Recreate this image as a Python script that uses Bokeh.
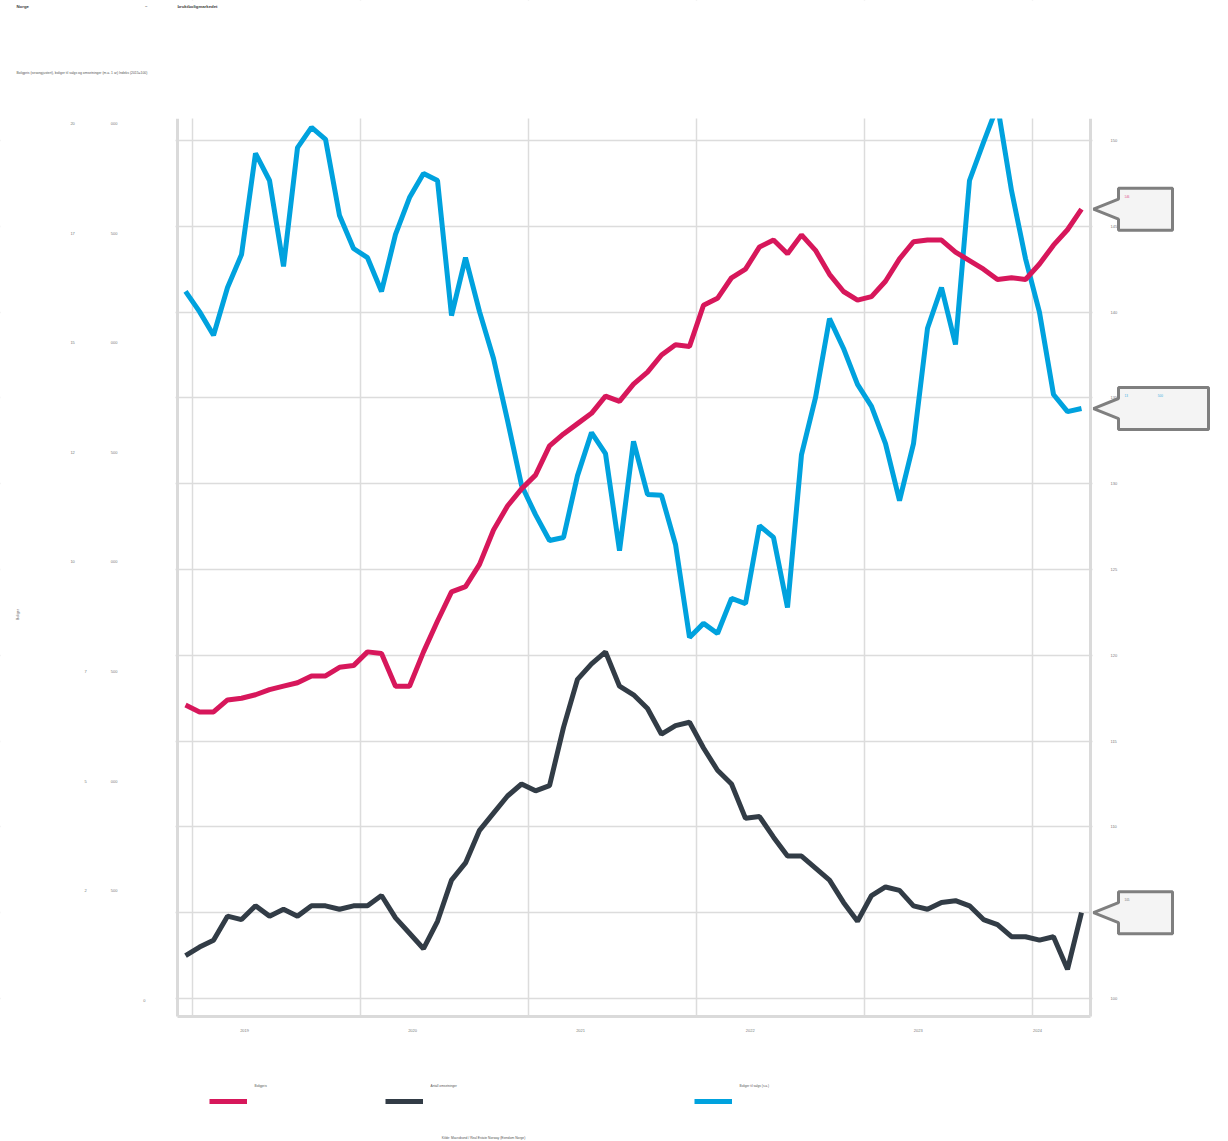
import math
import pandas as pd
from bokeh.plotting import figure
from bokeh.models import (Range1d, LinearAxis, FixedTicker, Grid, Legend, LegendItem,
                          Label, PolyAnnotation, BoxAnnotation)
from bokeh.embed import file_html
from bokeh.resources import INLINE

# Monthly series, December 2018 - April 2024
first_month = "2018-12"

# Boligpris, sesongjustert (indeks 2015=100)
boligpris = [117.1, 116.7, 116.7, 117.4, 117.5, 117.7, 118.0, 118.2, 118.4, 118.8,
             118.8, 119.3, 119.4, 120.2, 120.1, 118.2, 118.2, 120.2, 122.0, 123.7,
             124.0, 125.3, 127.3, 128.7, 129.7, 130.5, 132.2, 132.9, 133.5, 134.1,
             135.1, 134.8, 135.8, 136.5, 137.5, 138.1, 138.0, 140.4, 140.8, 142.0,
             142.5, 143.8, 144.2, 143.4, 144.5, 143.6, 142.2, 141.2, 140.7, 140.9,
             141.8, 143.1, 144.1, 144.2, 144.2, 143.5, 143.0, 142.5, 141.9, 142.0,
             141.9, 142.8, 143.9, 144.8, 146.0]

# Antall omsetninger, m.a. 1 år (indeks 2015=100)
omsetninger = [102.5, 103.0, 103.4, 104.8, 104.6, 105.4, 104.8, 105.2, 104.8, 105.4,
               105.4, 105.2, 105.4, 105.4, 106.0, 104.7, 103.8, 102.9, 104.5, 106.9,
               107.9, 109.8, 110.8, 111.8, 112.5, 112.1, 112.4, 115.8, 118.6, 119.5,
               120.2, 118.2, 117.7, 116.9, 115.4, 115.9, 116.1, 114.6, 113.3, 112.5,
               110.5, 110.6, 109.4, 108.3, 108.3, 107.6, 106.9, 105.6, 104.5, 106.0,
               106.5, 106.3, 105.4, 105.2, 105.6, 105.7, 105.4, 104.6, 104.3, 103.6,
               103.6, 103.4, 103.6, 101.7, 105.0]

# Boliger til salgs, sesongjustert (antall)
boliger_til_salgs = [16170, 15710, 15170, 16260, 17010, 19320, 18700, 16740, 19450, 19910,
                     19640, 17900, 17150, 16940, 16170, 17470, 18310, 18860, 18700, 15620,
                     16940, 15710, 14640, 13230, 11750, 11080, 10490, 10560, 11970, 12950,
                     12470, 10260, 12750, 11540, 11520, 10400, 8280, 8600, 8370, 9170,
                     9050, 10830, 10560, 8960, 12450, 13750, 15550, 14870, 14050, 13550,
                     12700, 11400, 12700, 15330, 16260, 14960, 18700, 19570, 20410, 18470,
                     16920, 15690, 13820, 13430, 13500]

years = ["2019", "2020", "2021", "2022", "2023", "2024"]
index_ticks = [100, 105, 110, 115, 120, 125, 130, 135, 140, 145, 150]
count_ticks = [0, 2500, 5000, 7500, 10000, 12500, 15000, 17500, 20000]

series_names = ["Boligpris", "Antall omsetninger", "Boliger til salgs (s.a.)"]
colors = ["#d7175b", "#323c46", "#00a2de"]

FONT = "Liberation Sans"
EM = "\u2003"

title_text = "Norge" + EM * 27 + "\u2013" + EM * 7 + "bruktboligmarkedet"
subtitle_text = ("Boligpris (sesongjustert), boliger til salgs og omsetninger "
                 "(m.a. 1 år) Indeks (2015=100)")
source_text = "Kilde: Macrobond / Real Estate Norway (Eiendom Norge)"
count_axis_title = "Boliger"

W, H = 1228, 1141

# month midpoints as decimal years
periods = pd.period_range(first_month, periods=len(boligpris), freq="M")
xs = [pr.year + (pr.month - 0.5) / 12 for pr in periods]

# chart area inside the page
X0, X1 = 2018.9107, 2024.345        # left / right edge (years)
Y0, Y1 = 98.951, 151.282            # bottom / top edge (index)
C0, C1 = -365, 20114                # same edges on the count scale

p = figure(width=W, height=H, min_border=0,
           x_range=Range1d(2017.857, 2025.1667),
           y_range=Range1d(91.667, 158.158),
           x_axis_location=None, y_axis_location=None,
           output_backend="svg", toolbar_location=None,
           background_fill_color="white", border_fill_color="white")
p.outline_line_color = None
p.extra_y_ranges = {"boliger": Range1d(-3215.5, 22805)}


def count_to_index(v):
    """Position of a count value expressed on the index scale."""
    return Y0 + (v - C0) * (Y1 - Y0) / (C1 - C0)


# gridlines: year starts and index steps
index_ticker = FixedTicker(ticks=index_ticks)
for g in (Grid(dimension=0, ticker=FixedTicker(ticks=[int(y) for y in years])),
          Grid(dimension=1, ticker=index_ticker)):
    g.grid_line_color = "#dcdcdc"
    g.grid_line_width = 1.5
    p.add_layout(g)

# lines
r_salg = p.line(xs, boliger_til_salgs, y_range_name="boliger",
                line_color=colors[2], line_width=5)
r_oms = p.line(xs, omsetninger, line_color=colors[1], line_width=5)
r_pris = p.line(xs, boligpris, line_color=colors[0], line_width=5)

# white margins around the chart area
for kw, lvl in ((dict(bottom=Y1), "guide"), (dict(left=X1 + 0.012), "glyph"),
                (dict(right=X0 - 0.012), "glyph"), (dict(top=Y0 - 0.06), "glyph")):
    p.add_layout(BoxAnnotation(fill_color="white", fill_alpha=1, line_alpha=0,
                               level=lvl, **kw))

axis_col = "#dadada"
label_col = "#7a7a7a"


def style_axis(ax, standoff):
    ax.axis_line_color = axis_col
    ax.axis_line_width = 3
    ax.major_tick_line_color = None
    ax.minor_tick_line_color = None
    ax.major_label_standoff = standoff
    ax.major_label_text_font = FONT
    ax.major_label_text_font_size = "4px"
    ax.major_label_text_color = label_col


# right (index) axis, labels sitting above their gridlines
ra = LinearAxis(ticker=index_ticker, fixed_location=X1, bounds=(Y0, Y1))
style_axis(ra, 14)
ra.major_label_text_baseline = "bottom"
ra.major_label_text_line_height = 7.5
p.add_layout(ra, "right")


# left (count) axis
def count_label(v):
    if v == 0:
        return "0"
    th, rest = divmod(v, 1000)
    gap = 9 if th >= 10 else 6
    return f"{th}" + EM * gap + f"{rest:03d}" + EM * 7


la = LinearAxis(y_range_name="boliger",
                ticker=FixedTicker(ticks=count_ticks),
                major_label_overrides={v: count_label(v) for v in count_ticks},
                fixed_location=X0, bounds=(C0, C1))
style_axis(la, 26)
p.add_layout(la, "left")
p.add_layout(Label(x=17, y=H - 614, x_units="screen", y_units="screen",
                   text=count_axis_title, angle=math.pi / 2, text_font=FONT,
                   text_font_size="3.5px", text_color="#555555",
                   text_align="center", text_baseline="middle"))

# bottom axis: year labels
year_label_pos = [2019.31, 2020.31, 2021.31, 2022.32, 2023.32, 2024.03]
xa = LinearAxis(ticker=FixedTicker(ticks=year_label_pos),
                major_label_overrides=dict(zip(year_label_pos, years)),
                fixed_location=Y0, bounds=(X0, X1))
style_axis(xa, 6)
p.add_layout(xa, "below")


# end-of-line callouts (x in page pixels, y on the index scale)
def callout(tip, text, color, right_px, label_y, label_range="default"):
    half, join = 1.224, 0.583
    p.add_layout(PolyAnnotation(
        xs=[1093, 1118, 1118, right_px, right_px, 1118, 1118],
        ys=[tip, tip + join, tip + half, tip + half,
            tip - half, tip - half, tip - join],
        xs_units="screen", ys_units="data",
        fill_color="#f4f4f4", fill_alpha=1,
        line_color="#7f7f7f", line_alpha=1, line_width=3))
    p.add_layout(Label(x=1124, x_units="screen", y=label_y, y_units="data",
                       y_range_name=label_range, text=text,
                       text_font=FONT, text_font_size="3px", text_color=color,
                       text_baseline="middle"))


callout(boligpris[-1], f"{boligpris[-1]:.0f}", "#e0508a", 1172,
        boligpris[-1] + 0.76)
callout(omsetninger[-1], f"{omsetninger[-1]:.0f}", "#707070", 1172,
        omsetninger[-1] + 0.76)
last = boliger_til_salgs[-1]
callout(count_to_index(last),
        f"{last // 1000}" + EM * 10 + f"{last % 1000:03d}", "#35aee2", 1208,
        last + 297, "boliger")

# legend blocks below the chart: swatch with the name above it
for r, name, vx in [(r_pris, series_names[0], 209),
                    (r_oms, series_names[1], 385),
                    (r_salg, series_names[2], 694)]:
    p.add_layout(Legend(items=[LegendItem(label="", renderers=[r])],
                        location=(vx, 35), orientation="horizontal",
                        glyph_width=38, glyph_height=10, label_width=0,
                        label_standoff=0, padding=0, margin=0,
                        border_line_color=None, background_fill_alpha=0,
                        label_text_font_size="3px"))
    p.add_layout(Label(x=vx + 45, y=H - 1085, x_units="screen", y_units="screen",
                       text=name, text_font=FONT, text_font_size="3.2px",
                       text_color="#555555", text_baseline="middle"))

# titles and source
p.add_layout(Label(x=16, y=H - 6, x_units="screen", y_units="screen",
                   text=title_text, text_font=FONT, text_font_size="4.3px",
                   text_font_style="bold", text_color="#3c3c3c",
                   text_baseline="middle"))
p.add_layout(Label(x=16, y=H - 72, x_units="screen", y_units="screen",
                   text=subtitle_text, text_font=FONT, text_font_size="3.4px",
                   text_color="#555555", text_baseline="middle"))
p.add_layout(Label(x=483, y=H - 1137, x_units="screen", y_units="screen",
                   text=source_text, text_font=FONT, text_font_size="3.3px",
                   text_color="#555555", text_align="center",
                   text_baseline="middle"))

open("out.html", "w").write(file_html(p, INLINE))
